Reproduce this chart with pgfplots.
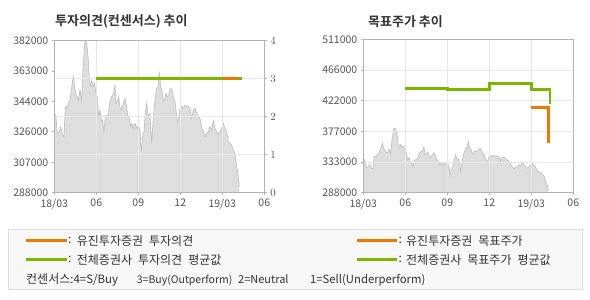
\documentclass[border=0pt]{standalone}
\usepackage{fontspec}
\setmainfont{Noto Sans CJK KR}
\newfontfamily\boldkr{Noto Sans CJK KR Bold}
\usepackage{pgfplots}
\usepackage{pgfplotstable}
\pgfplotsset{compat=1.18}
\definecolor{areagray}{HTML}{DEDEDE}
\definecolor{linegray}{HTML}{BDBDBD}
\definecolor{gridc}{HTML}{E8E8E8}
\definecolor{framec}{HTML}{B4B4B4}
\definecolor{tickc}{HTML}{555555}
\definecolor{orangeL}{HTML}{F07800}
\definecolor{greenL}{HTML}{7AB800}
\definecolor{legbg}{HTML}{F8F8F8}
\definecolor{legframe}{HTML}{DDDDDD}
\definecolor{legtext}{HTML}{333333}

\pgfplotstableread{
m p
0 338100
0.119 335000
0.214 324700
0.357 325700
0.452 328800
0.595 323700
0.690 322600
0.786 341200
0.881 340100
1.0 343200
1.119 345300
1.238 352500
1.357 360100
1.476 351500
1.595 347400
1.714 345300
1.833 351500
1.952 345300
2.071 368000
2.19 381400
2.262 381800
2.357 377200
2.429 370000
2.5 357700
2.595 353500
2.667 357700
2.786 353500
2.881 355600
2.976 349400
3.071 347400
3.167 335000
3.262 339100
3.381 331900
3.452 332900
3.548 325700
3.643 335000
3.738 336000
3.857 336000
3.976 344300
4.095 347400
4.214 348400
4.333 354600
4.405 343200
4.5 344300
4.595 347400
4.690 341200
4.810 339100
4.929 343200
5.048 346300
5.167 341200
5.262 335000
5.357 334000
5.452 328800
5.548 330900
5.643 327800
5.762 330900
5.881 327800
6.0 329800
6.119 326700
6.214 313400
6.31 322600
6.405 325700
6.5 337100
6.595 343200
6.714 335000
6.833 337100
6.952 318500
7.071 335000
7.190 345300
7.310 352500
7.405 353500
7.5 362800
7.595 353500
7.69 351500
7.786 345300
7.881 345300
7.976 349400
8.071 347400
8.167 348400
8.262 351500
8.357 352500
8.452 349400
8.548 345300
8.643 343200
8.738 335000
8.833 330900
8.929 337100
9.024 342200
9.119 341200
9.214 340100
9.333 342200
9.452 341200
9.571 341600
9.69 340100
9.81 334000
9.929 339100
10.048 340100
10.167 337100
10.286 335000
10.405 334000
10.524 328800
10.643 325700
10.762 322600
10.881 324700
11.0 325700
11.119 328800
11.238 326700
11.357 332900
11.476 327800
11.595 325700
11.714 323700
11.833 325700
11.952 327800
12.071 330900
12.19 327800
12.31 325700
12.429 319500
12.548 318500
12.667 317500
12.786 314400
12.905 312300
13.024 304100
13.119 300000
13.214 291700
}\price

\pgfplotsset{
  base/.style={
    scale only axis, anchor=south west,
    xmin=0, xmax=15,
    tick align=outside, major tick length=2.5pt,
    axis line style={framec, line width=0.8pt},
    tick style={framec, line width=0.8pt},
    grid style={gridc, line width=0.9pt},
    tick label style={font=\fontsize{10.5}{12}\selectfont, text=tickc},
    scaled ticks=false,
  },
}

\begin{document}
\begin{tikzpicture}[x=1pt,y=1pt]
\useasboundingbox (0,0) rectangle (590,300);
\fill[white] (0,0) rectangle (590,300);

% titles
\node[anchor=west, inner sep=0pt, text=legtext] at (55,278.3) {\boldkr\fontsize{13}{15}\selectfont 투자의견(컨센서스) 추이};
\node[anchor=west, inner sep=0pt, text=legtext] at (368,278.3) {\boldkr\fontsize{13}{15}\selectfont 목표주가 추이};

% ---------- left chart: price area ----------
\begin{axis}[base,
  at={(54.3pt,107.3pt)}, width=210pt, height=152pt,
  ymin=288000, ymax=382000,
  xtick={0,3,6,9,12,15}, xticklabels={18/03,06,09,12,19/03,06},
  ytick={288000,306800,325600,344400,363200,382000},
  yticklabels={288000,307000,326000,344000,363000,382000},
  ytick pos=left, xtick pos=bottom,
  xmajorgrids, axis on top,
]
\addplot[fill=areagray, draw=none] table[x=m,y=p]{\price} \closedcycle;
\addplot[linegray, line width=0.6pt] table[x=m,y=p]{\price};
\end{axis}

% ---------- left chart: opinion (right axis) ----------
\begin{axis}[base,
  at={(54.3pt,107.3pt)}, width=210pt, height=152pt,
  ymin=0, ymax=4,
  xtick=\empty,
  ytick={1,2,3}, extra y ticks={0,4}, extra y tick style={grid=none},
  ytick pos=right, ymajorgrids,
]
\addplot[greenL, line width=2.6pt] coordinates {(3,3) (13.38,3)};
\addplot[orangeL, line width=2.6pt] coordinates {(11.95,3) (13.21,3)};
\end{axis}

% ---------- right chart: price area ----------
\begin{axis}[base,
  at={(363.3pt,107.3pt)}, width=210pt, height=153.4pt,
  ymin=288000, ymax=511000,
  xtick={0,3,6,9,12,15}, xticklabels={18/03,06,09,12,19/03,06},
  ytick={288000,332600,377200,421800,466400,511000},
  yticklabels={288000,333000,377000,422000,466000,511000},
  ytick pos=left, xtick pos=bottom,
  xmajorgrids, ymajorgrids, axis on top,
]
\addplot[fill=areagray, draw=none] table[x=m,y=p]{\price} \closedcycle;
\addplot[linegray, line width=0.6pt] table[x=m,y=p]{\price};
\end{axis}

% ---------- right chart: target price lines ----------
\begin{axis}[base,
  at={(363.3pt,107.3pt)}, width=210pt, height=153.4pt,
  ymin=288000, ymax=511000, hide axis,
]
\addplot[greenL, line width=2.6pt, const plot] coordinates {(3,439100) (6,437700) (9,446400) (12,437700) (13.33,416800)};
\addplot[orangeL, line width=2.6pt, const plot] coordinates {(11.98,411900) (13.21,360900)};
\end{axis}

% ---------- legend ----------
\draw[legframe, fill=legbg, line width=0.9pt] (8.3,11) rectangle (582,71);
\draw[orangeL, line width=3pt] (26,59.3) -- (66.7,59.3);
\draw[greenL, line width=3pt] (26,40.3) -- (66.7,40.3);
\draw[orangeL, line width=3pt] (357.3,59.3) -- (396.7,59.3);
\draw[greenL, line width=3pt] (357.3,40.3) -- (396.7,40.3);
\begin{scope}[every node/.style={anchor=west, inner sep=0pt, text=legtext, font=\fontsize{12}{14}\selectfont}]
\node at (67.8,59.3) {:};
\node at (76.7,59.3) {유진투자증권\hspace{6pt}투자의견};
\node at (67.8,40.3) {:};
\node at (76.7,40.3) {전체증권사\hspace{6pt}투자의견\hspace{6pt}평균값};
\node at (398.5,59.3) {:};
\node at (406,59.3) {유진투자증권\hspace{6pt}목표주가};
\node at (398.5,40.3) {:};
\node at (406,40.3) {전체증권사\hspace{6pt}목표주가\hspace{6pt}평균값};
\end{scope}
\begin{scope}[every node/.style={anchor=base west, inner sep=0pt, text=legtext, font=\fontsize{12}{14}\selectfont}]
\node at (26,16.2) {컨센서스{\fontsize{11.5}{14}\selectfont :4=S/Buy}};
\node[font=\fontsize{10.5}{14}\selectfont] at (136.7,16.2) {3=Buy(Outperform)};
\node[font=\fontsize{11}{14}\selectfont] at (238,16.2) {2=Neutral};
\node[font=\fontsize{11.3}{14}\selectfont] at (310,16.2) {1=Sell(Underperform)};
\end{scope}
\end{tikzpicture}
\end{document}
